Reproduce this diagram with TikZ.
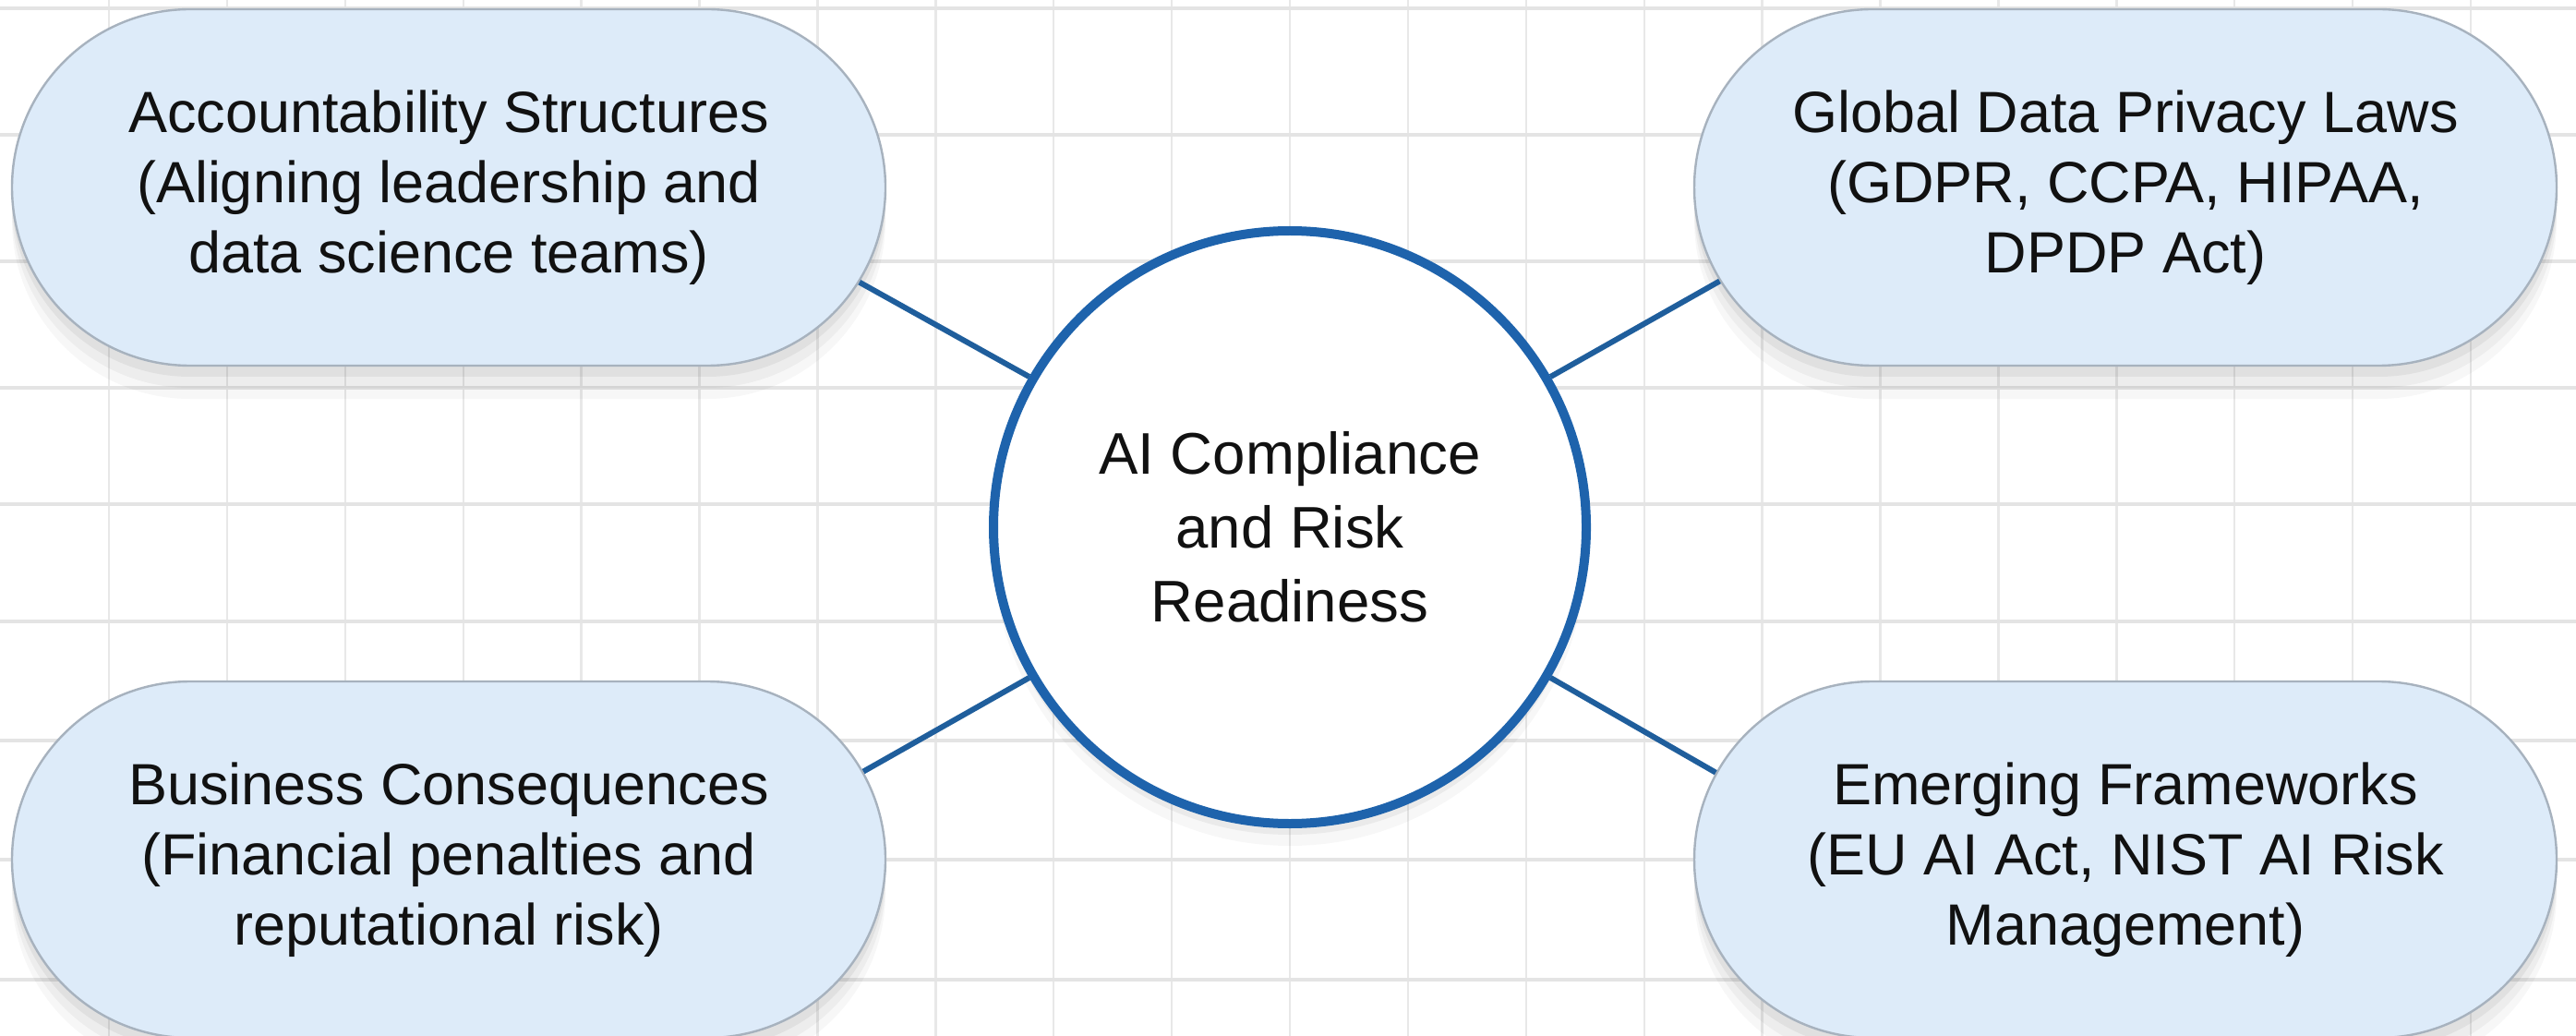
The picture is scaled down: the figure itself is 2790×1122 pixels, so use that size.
\documentclass[tikz,border=0pt]{standalone}
\usepackage{fontspec}
\setmainfont{Liberation Sans}
\usetikzlibrary{shapes.misc}
\definecolor{gridv}{HTML}{E8E8E8}
\definecolor{gridh}{HTML}{E4E4E4}
\definecolor{pillfill}{HTML}{DDEBF9}
\definecolor{pilledge}{HTML}{A7B2BE}
\definecolor{ringblue}{HTML}{1E63AC}
\definecolor{linkblue}{HTML}{1F5E9C}
\definecolor{txt}{HTML}{111111}
\begin{document}
\begin{tikzpicture}[x=0.25pt,y=0.25pt,
  gridvline/.style={draw=gridv,line width=0.6pt},
  gridhline/.style={draw=gridh,line width=0.85pt},
  pill/.style={shape=rounded rectangle, rounded rectangle arc length=180,
    draw=pilledge, line width=0.6pt, fill=pillfill, minimum height=96.5pt,
    inner sep=0pt, align=center, text=txt,
    font=\fontsize{15.75pt}{19pt}\selectfont,
    preaction={fill=black,opacity=0.05,transform canvas={yshift=-3pt}},
    preaction={fill=black,opacity=0.04,transform canvas={yshift=-6pt}},
    preaction={fill=black,opacity=0.03,transform canvas={yshift=-9pt}}},
  hub/.style={circle, draw=ringblue, line width=2.5pt, fill=white,
    minimum size=160.5pt, inner sep=0pt, align=center, text=txt,
    font=\fontsize{15.9pt}{20pt}\selectfont,
    preaction={fill=black,opacity=0.05,transform canvas={yshift=-3pt}},
    preaction={fill=black,opacity=0.03,transform canvas={yshift=-6pt}}},
  link/.style={draw=linkblue, line width=1.5pt}]
\useasboundingbox (0,0) rectangle (2790,-1122);
\fill[white] (0,0) rectangle (2790,-1122);
\foreach \k in {0,...,20}
  \draw[gridvline] ({118+127.9*\k},0) -- ({118+127.9*\k},-1122);
\foreach \yy in {9,146,283,420,546,673,802,931,1061}
  \draw[gridhline] (0,-\yy) -- (2790,-\yy);

\node[pill, minimum width=236.5pt] (tl) at (486,-203)
  {Accountability Structures\\(Aligning leadership and\\data science teams)};
\node[pill, minimum width=233.5pt] (tr) at (2302,-203)
  {Global Data Privacy Laws\\(GDPR, CCPA, HIPAA,\\DPDP Act)};
\node[pill, minimum width=236.5pt] (bl) at (486,-931)
  {Business Consequences\\(Financial penalties and\\reputational risk)};
\node[pill, minimum width=233.5pt] (br) at (2302,-931)
  {Emerging Frameworks\\(EU AI Act, NIST AI Risk\\Management)};
\node[hub] (c) at (1397,-571) {AI Compliance\\and Risk\\Readiness};

\draw[link] (c.150) -- (tl.-13.5);
\draw[link] (c.30) -- (tr.193);
\draw[link] (c.210) -- (bl.12);
\draw[link] (c.330) -- (br.168);
\end{tikzpicture}
\end{document}
